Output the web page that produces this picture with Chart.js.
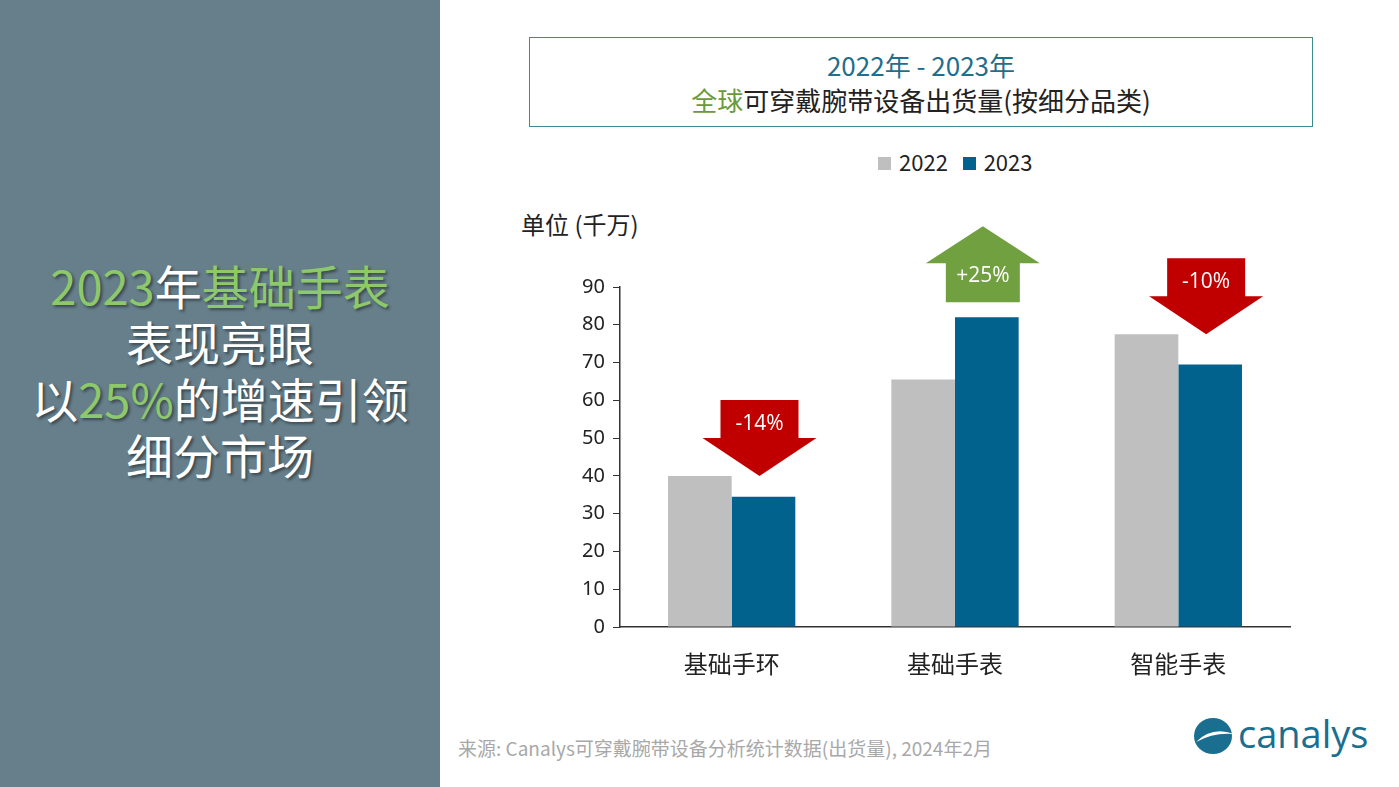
<!DOCTYPE html>
<html><head><meta charset="utf-8">
<script src="https://cdn.jsdelivr.net/npm/chart.js@4"></script>
<style>
body{margin:0;width:1399px;height:787px;position:relative;background:#fff;font-family:"Noto Sans CJK SC","Noto Sans",sans-serif;overflow:hidden}
#left{position:absolute;left:0;top:0;width:440px;height:787px;background:#667f8b}
.ln{position:absolute;left:0;width:440px;text-align:center;color:#fff;font-size:47px;line-height:56px;text-shadow:2px 2px 3px rgba(0,0,0,.45)}
.g{color:#8dc96b}
#tbox{position:absolute;left:529px;top:37px;width:782px;height:88px;border:1.5px solid #3d8a93;text-align:center}
#t1{position:absolute;top:8px;width:100%;font-size:26px;color:#1f6e8c}
#t2{position:absolute;top:43px;width:100%;font-size:26px;color:#222}
#legend{position:absolute;top:145px;left:878px;font-size:22px;color:#222}
.sq{display:inline-block;width:13px;height:13px;margin-right:8px;vertical-align:1px}
#unit{position:absolute;left:521px;top:206px;font-size:24px;color:#222}
#src{position:absolute;left:458px;top:734px;font-size:19px;color:#a8a8a8}
#logo{position:absolute;left:1238px;top:707px;font-size:38px;color:#1a6e8f;font-family:"Open Sans",sans-serif}
#c{position:absolute;left:560px;top:200px}
</style></head><body>
<div id="left">
<div class="ln" style="top:257px"><span class="g">2023</span>年<span class="g">基础手表</span></div>
<div class="ln" style="top:313px">表现亮眼</div>
<div class="ln" style="top:370px">以<span class="g">25%</span>的增速引领</div>
<div class="ln" style="top:426px">细分市场</div>
</div>
<div id="tbox"><div id="t1">2022年 - 2023年</div><div id="t2"><span style="color:#6a9a3a">全球</span>可穿戴腕带设备出货量(按细分品类)</div></div>
<div id="legend"><span class="sq" style="background:#bfbfbf"></span>2022&nbsp;&nbsp;&nbsp;<span class="sq" style="background:#01628d"></span>2023</div>
<div id="unit">单位 (千万)</div>
<div id="src">来源: Canalys可穿戴腕带设备分析统计数据(出货量), 2024年2月</div>
<svg style="position:absolute;left:1192px;top:716px" width="44" height="40"><ellipse cx="21" cy="20" rx="19" ry="18" fill="#1a6e8f"/><path d="M4 26 Q20 10 42 18 Q22 16 4 26Z" fill="#fff"/></svg>
<div id="logo">canalys</div>
<canvas id="c" width="740" height="500" style="width:740px;height:500px"></canvas>
<script>
const categories=["基础手环","基础手表","智能手表"];
const v2022=[40,65.5,77.5];
const v2023=[34.5,82,69.5];
const changes=["-14%","+25%","-10%"];
const seriesNames=["2022","2023"];
const arrowPlugin={id:'arrows',afterDatasetsDraw(ch){
 const ctx=ch.ctx,y=ch.scales.y,m=ch.getDatasetMeta(1);
 changes.forEach((lab,i)=>{
  const cx=m.data[i].x-4, up=lab[0]==='+';
  ctx.save();ctx.beginPath();
  if(up){const b=y.getPixelForValue(v2023[i])-15;
   ctx.moveTo(cx-37,b);ctx.lineTo(cx+37,b);ctx.lineTo(cx+37,b-39);ctx.lineTo(cx+57,b-39);ctx.lineTo(cx,b-76);ctx.lineTo(cx-57,b-39);ctx.lineTo(cx-37,b-39);
   ctx.closePath();ctx.fillStyle='#70a03f';ctx.fill();
   ctx.fillStyle='#fff';ctx.font='21px "Open Sans",sans-serif';ctx.textAlign='center';ctx.textBaseline='middle';ctx.fillText(lab,cx,b-26);
  }else{const t=y.getPixelForValue(Math.max(v2022[i],v2023[i]));
   ctx.moveTo(cx-39,t-76);ctx.lineTo(cx+39,t-76);ctx.lineTo(cx+39,t-38);ctx.lineTo(cx+57,t-38);ctx.lineTo(cx,t);ctx.lineTo(cx-57,t-38);ctx.lineTo(cx-39,t-38);
   ctx.closePath();ctx.fillStyle='#c00000';ctx.fill();
   ctx.fillStyle='#fff';ctx.font='21px "Open Sans",sans-serif';ctx.textAlign='center';ctx.textBaseline='middle';ctx.fillText(lab,cx,t-52);
  }
  ctx.restore();});
}};
new Chart(document.getElementById('c'),{type:'bar',
 data:{labels:categories,datasets:[
  {label:seriesNames[0],data:v2022,backgroundColor:'#bfbfbf'},
  {label:seriesNames[1],data:v2023,backgroundColor:'#01628d'}]},
 options:{responsive:false,animation:false,
  layout:{padding:{top:87,right:10,left:0,bottom:0}},
  plugins:{legend:{display:false},tooltip:{enabled:false}},
  datasets:{bar:{barPercentage:1,categoryPercentage:0.57}},
  scales:{
   x:{grid:{display:false},border:{color:'#333',width:1.5},
      ticks:{color:'#222',font:{size:24,family:'"Noto Sans CJK SC"'},padding:14},
      afterFit(s){s.height=73;}},
   y:{min:0,max:90,ticks:{stepSize:10,color:'#222',font:{size:20,family:'"Noto Sans","Open Sans"'},padding:8},
      grid:{drawOnChartArea:false,drawTicks:true,tickLength:7,color:'#333'},border:{color:'#333',width:1.5},
      afterFit(s){s.width=60;}}
  }},
 plugins:[arrowPlugin]});
</script>
</body></html>
